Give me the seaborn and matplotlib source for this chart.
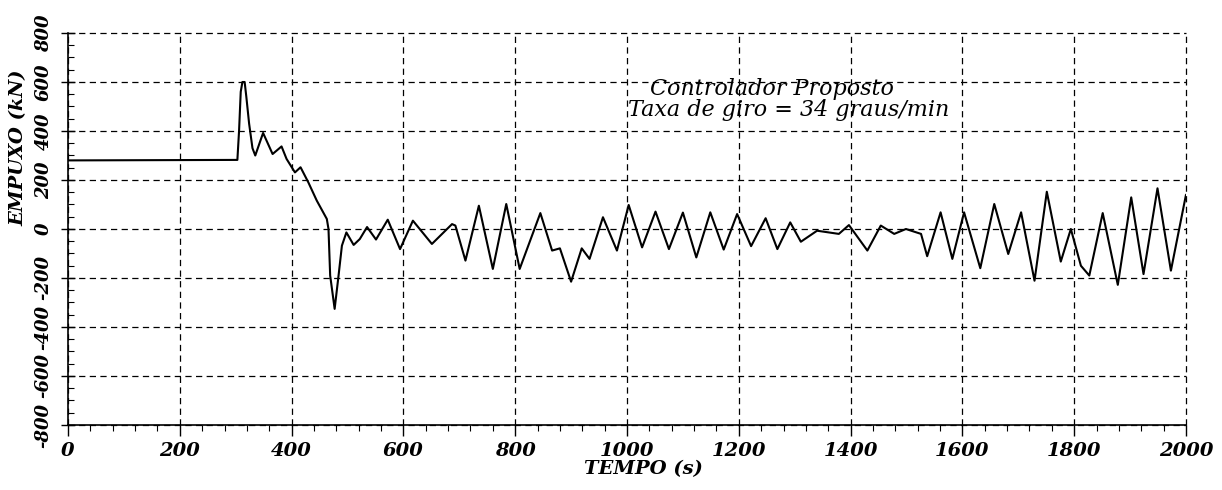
# recria o grafico de empuxo x tempo
import pandas as pd
import seaborn as sns
import matplotlib.pyplot as plt
from matplotlib.ticker import MultipleLocator

# dados
tempo = [0, 303, 306, 309, 312, 316, 319, 324, 330, 335, 349, 366, 382, 391,
         406, 416, 430, 445, 463, 466, 469, 477, 484, 490, 498, 511, 522, 535,
         551, 572, 594, 617, 651, 687, 693, 711, 735, 760, 784, 808, 845, 866,
         880, 900, 919, 933, 957, 982, 1003, 1027, 1051, 1075, 1100, 1124,
         1149, 1173, 1197, 1222, 1248, 1269, 1292, 1311, 1340, 1379, 1397,
         1430, 1454, 1478, 1499, 1526, 1537, 1561, 1582, 1603, 1632, 1657,
         1682, 1705, 1729, 1751, 1776, 1794, 1812, 1827, 1851, 1878, 1902,
         1924, 1949, 1973, 2000]
empuxo = [280, 282, 400, 560, 600, 600, 540, 430, 330, 300, 392, 306, 337, 286,
          231, 252, 190, 116, 41, 0, -190, -326, -190, -68, -14, -65, -41, 8,
          -43, 38, -82, 34, -61, 20, 14, -129, 95, -163, 102, -163, 65, -88,
          -79, -215, -79, -122, 48, -88, 98, -75, 71, -82, 67, -116,
          68, -84, 61, -70, 44, -82, 27, -52, -7, -20, 16,
          -88, 14, -20, 0, -20, -111, 68, -122, 68, -160, 102,
          -102, 68, -211, 152, -133, 0, -150, -190, 65, -228, 129,
          -184, 166, -170, 140]

yticks = [-800, -600, -400, -200, 0, 200, 400, 600, 800]
xticks = [0, 200, 400, 600, 800, 1000, 1200, 1400, 1600, 1800, 2000]

df = pd.DataFrame({"tempo": tempo, "empuxo": empuxo})

sns.set_style("white")
fonte = {"family": "DejaVu Serif", "style": "italic", "weight": "bold", "size": 14,
         "color": "black"}

fig = plt.figure(figsize=(12.22, 4.9), dpi=100)
ax = fig.add_axes([68 / 1222, 1 - 425 / 490, (1186 - 68) / 1222, (425 - 33) / 490])

sns.lineplot(data=df, x="tempo", y="empuxo", color="black", linewidth=1.5, ax=ax)
ax.lines[0].set_solid_joinstyle("round")

ax.set_xlim(0, 2000)
ax.set_ylim(-800, 800)
ax.set_xticks(xticks)
ax.set_yticks(yticks)
ax.xaxis.set_minor_locator(MultipleLocator(40))
ax.yaxis.set_minor_locator(MultipleLocator(50))
ax.set_xticklabels([str(v) for v in xticks], fontdict=fonte)
ax.set_yticklabels([str(v) for v in yticks], fontdict={**fonte, "size": 13},
                   rotation=90, va="center")

ax.tick_params(which="both", left=True, bottom=True, colors="black")
ax.tick_params(axis="x", which="major", direction="out", length=8, width=1, pad=4)
ax.tick_params(axis="x", which="minor", direction="out", length=4, width=0.8)
ax.tick_params(axis="y", which="major", direction="inout", length=10, width=1, pad=6)
ax.tick_params(axis="y", which="minor", direction="in", length=4, width=0.8)

# grade tracejada
ax.grid(True, which="major", color="black", linestyle=(0, (5, 3.5)), linewidth=0.9)
for g in ax.get_xgridlines() + ax.get_ygridlines():
    g.set_clip_on(False)
for s in ["top", "right"]:
    ax.spines[s].set_visible(False)
for s in ["left", "bottom"]:
    ax.spines[s].set_color("black")
    ax.spines[s].set_linewidth(1.2)

ax.set_xlabel("TEMPO (s)", fontdict=fonte)
ax.set_ylabel("EMPUXO (kN)", fontdict=fonte)
ax.xaxis.set_label_coords(0.515, -0.09)
ax.yaxis.set_label_coords(-0.036, 0.707)

txt = {"family": "DejaVu Serif", "style": "italic", "size": 16, "color": "black"}
ax.text(1259, 571, "Controlador Proposto", ha="center", va="center", fontdict=txt)
ax.text(1289, 486, "Taxa de giro = 34 graus/min", ha="center", va="center", fontdict=txt)

plt.savefig("out.png", dpi=100)
